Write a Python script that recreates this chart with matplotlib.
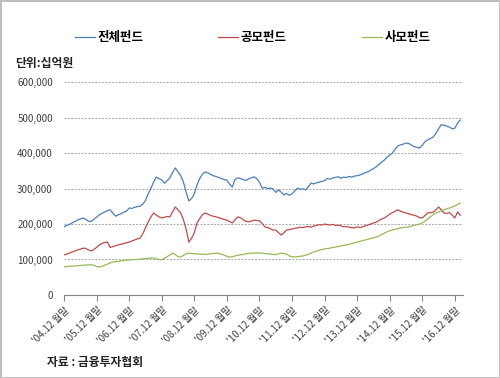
import numpy as np
import matplotlib
matplotlib.use('Agg')
import matplotlib.pyplot as plt
from matplotlib.ticker import FuncFormatter

plt.rcParams['font.family'] = ['Noto Sans CJK KR', 'DejaVu Sans']

# monthly values, Dec 2004 .. Feb 2017 (unit: 10억원)
total_fund = [
    192, 196, 199, 203, 207, 211, 214, 217, 213, 208, 207, 213, 219,
    226, 230, 234, 238, 240, 231, 222, 226, 229, 233, 236, 245,
    244, 247, 249, 250, 256, 266, 285, 300, 318, 332, 328, 324,
    315, 322, 330, 345, 358, 347, 336, 318, 290, 265, 272, 285,
    310, 328, 340, 347, 344, 340, 336, 334, 331, 328, 325, 324,
    312, 304, 325, 330, 328, 325, 323, 327, 330, 333, 328, 318,
    301, 303, 300, 301, 299, 289, 296, 290, 282, 286, 281, 285,
    293, 301, 298, 299, 296, 305, 315, 313, 316, 318, 320, 322,
    328, 326, 330, 331, 333, 329, 332, 331, 334, 332, 335, 336,
    338, 341, 345, 347, 352, 356, 361, 368, 374, 380, 388, 394,
    400, 411, 420, 423, 425, 428, 427, 422, 418, 416, 414, 422,
    432, 437, 441, 445, 455, 468, 480, 478, 476, 473, 468, 470,
    484, 493,
]

public_fund = [
    113, 115, 118, 121, 124, 127, 129, 132, 131, 127, 124, 128, 134,
    141, 145, 148, 149, 134, 136, 139, 141, 143, 145, 147, 149,
    152, 155, 158, 160, 172, 189, 205, 220, 231, 225, 220, 217,
    219, 221, 220, 234, 248, 240, 231, 212, 185, 149, 160, 175,
    203, 215, 226, 231, 228, 224, 222, 220, 218, 215, 213, 211,
    207, 203, 212, 220, 218, 212, 208, 206, 208, 211, 210, 209,
    202, 192, 190, 187, 183, 183, 176, 169, 175, 183, 184, 186,
    188, 189, 191, 190, 192, 193, 191, 194, 196, 198, 197, 200,
    198, 197, 199, 196, 197, 195, 192, 193, 191, 190, 189, 192,
    190, 192, 195, 197, 200, 203, 205, 210, 214, 217, 222, 228,
    232, 236, 240, 236, 233, 231, 229, 226, 225, 222, 218, 217,
    224, 231, 232, 233, 240, 248, 240, 231, 230, 232, 225, 217,
    234, 225,
]

private_fund = [
    79, 80, 81, 81, 82, 82, 83, 84, 84, 85, 85, 84, 80,
    79, 81, 84, 87, 90, 93, 94, 95, 96, 97, 98, 99,
    99, 100, 100, 101, 102, 103, 103, 104, 104, 102, 100, 99,
    103, 108, 113, 118, 114, 108, 107, 112, 116, 118, 117, 116,
    116, 115, 115, 114, 115, 116, 117, 118, 117, 115, 112, 109,
    107, 108, 110, 112, 113, 114, 116, 117, 118, 118, 119, 118,
    118, 117, 116, 115, 114, 114, 116, 118, 117, 115, 110, 108,
    107, 108, 109, 110, 112, 115, 118, 121, 124, 126, 128, 130,
    131, 132, 134, 135, 137, 138, 140, 141, 143, 145, 147, 149,
    151, 153, 155, 157, 159, 161, 163, 166, 170, 174, 178, 181,
    183, 185, 187, 189, 190, 191, 192, 194, 196, 198, 200, 203,
    208, 214, 220, 226, 231, 234, 237, 240, 243, 245, 248, 251,
    255, 259,
]

series_names = ['전체펀드', '공모펀드', '사모펀드']
tick_labels = ["'04.12 월말", "'05.12 월말", "'06.12 월말", "'07.12 월말",
               "'08.12 월말", "'09.12 월말", "'10.12 월말", "'11.12 월말",
               "'12.12 월말", "'13.12 월말", "'14.12 월말", "'15.12 월말",
               "'16.12 월말"]

colors = ['#4A7EBB', '#BE4B48', '#98B954']

fig = plt.figure(figsize=(5, 3.78), dpi=100)
fig.patch.set_edgecolor('#BFBFBF')
fig.patch.set_linewidth(2)
ax = fig.add_axes([0.128, 0.2196, 0.798, 0.5634])

months = np.arange(len(total_fund))
lines = []
for vals, name, c in zip([total_fund, public_fund, private_fund], series_names, colors):
    ln, = ax.plot(months, np.array(vals) * 1000, color=c, lw=0.9, label=name)
    lines.append(ln)

ax.set_xlim(0, 147)
ax.set_ylim(0, 600000)
ax.set_yticks(np.arange(0, 600001, 100000))
ax.yaxis.set_major_formatter(FuncFormatter(lambda v, p: f'{int(v):,}'))
ax.grid(axis='y', color='#A6A6A6', linestyle=(0, (2, 1.5)), lw=0.7)
ax.set_axisbelow(True)

ax.set_xticks(np.arange(0, 145, 12))
ax.set_xticklabels(tick_labels, rotation=45, ha='right', va='top',
                   rotation_mode='anchor')
ax.tick_params(axis='x', length=4, color='#868686', labelsize=7,
               labelcolor='#404040', pad=3)
ax.tick_params(axis='y', length=0, labelsize=7, labelcolor='#404040', pad=8)

for s in ['top', 'right', 'left']:
    ax.spines[s].set_visible(False)
ax.spines['bottom'].set_color('#868686')

fig.legend(handles=lines, labels=series_names, loc='center',
           bbox_to_anchor=(0.505, 0.9), ncol=3, frameon=False,
           handlelength=1.6, handletextpad=0.2, columnspacing=6.0,
           prop={'size': 9, 'weight': 'bold'})

fig.text(0.03, 0.833, '단위:십억원', fontsize=8.5, fontweight='bold',
         va='center', ha='left', color='#222222')
fig.text(0.094, 0.04, '자료 : 금융투자협회', fontsize=8.5, fontweight='bold',
         va='center', ha='left', color='#222222')

fig.savefig('out.png', dpi=100, edgecolor=fig.get_edgecolor())
